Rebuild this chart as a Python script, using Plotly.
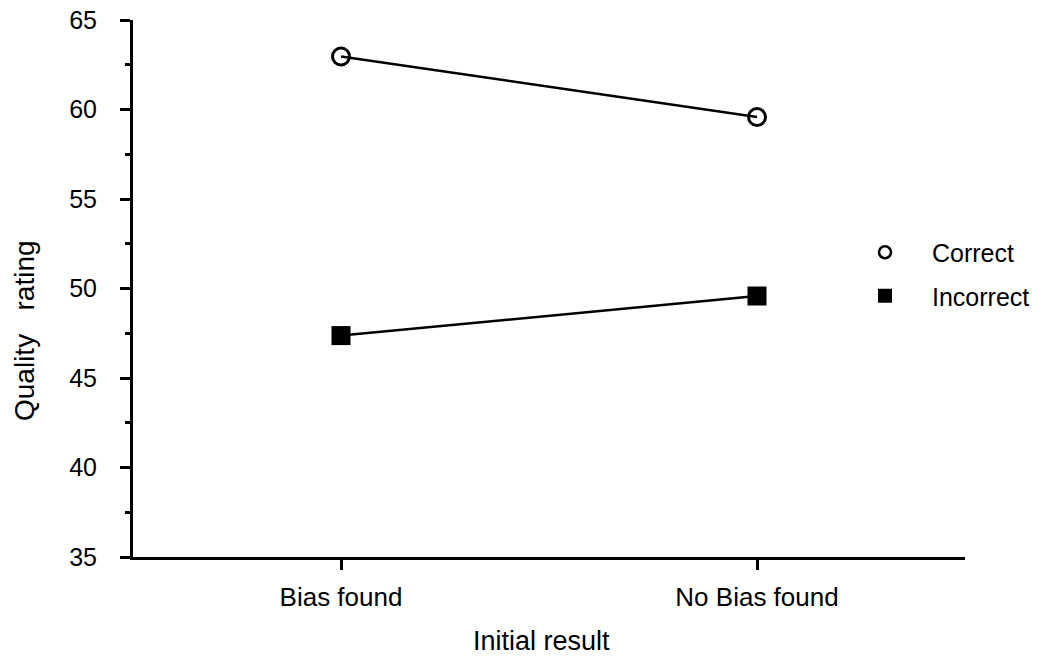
import plotly.graph_objects as go

categories = ["Bias found", "No Bias found"]
correct = [62.96, 59.58]
incorrect = [47.37, 49.58]
series_names = ["Correct", "Incorrect"]
y_ticks = [35, 40, 45, 50, 55, 60, 65]

FONT = "Liberation Sans, Arial, sans-serif"

fig = go.Figure()
fig.add_trace(go.Scatter(x=categories, y=correct, mode="lines+markers",
                         line=dict(color="black", width=2.5),
                         marker=dict(symbol="circle-open", size=17, color="black", line=dict(width=3)),
                         showlegend=False, cliponaxis=False))
fig.add_trace(go.Scatter(x=categories, y=incorrect, mode="lines+markers",
                         line=dict(color="black", width=2.5),
                         marker=dict(symbol="square", size=19, color="black"),
                         showlegend=False, cliponaxis=False))
# legend entries (markers only)
fig.add_trace(go.Scatter(x=[None], y=[None], mode="markers", name=series_names[0],
                         legendgroup="a",
                         marker=dict(symbol="circle-open", size=12, color="black", line=dict(width=2.5))))
fig.add_trace(go.Scatter(x=[None], y=[None], mode="markers", name=series_names[1],
                         legendgroup="b",
                         marker=dict(symbol="square", size=14, color="black")))

fig.update_layout(
    width=1049, height=658,
    margin=dict(l=133, r=84, t=20, b=101, autoexpand=False),
    paper_bgcolor="white", plot_bgcolor="white",
    font=dict(family=FONT, color="black", size=25),
    legend=dict(x=(838 - 133) / 832, y=0.527, xanchor="left", yanchor="middle",
                font=dict(size=25, family=FONT), bgcolor="rgba(0,0,0,0)",
                traceorder="grouped", tracegroupgap=8, itemwidth=84),
)
fig.update_xaxes(type="category", range=[-0.5, 1.5], showline=True, linecolor="black", linewidth=3,
                 ticks="outside", ticklen=10, tickwidth=2.5, tickcolor="black",
                 ticklabelstandoff=5, automargin=False,
                 showgrid=False, zeroline=False, tickfont=dict(size=26, family=FONT))
fig.update_yaxes(range=[35, 65], tickvals=y_ticks, showline=True, linecolor="black", linewidth=3,
                 ticks="outside", ticklen=10, tickwidth=2.5, tickcolor="black",
                 ticklabelstandoff=18, ticklabeloverflow="allow", automargin=False,
                 minor=dict(dtick=2.5, tick0=35, ticks="outside", ticklen=5, tickwidth=2.5, tickcolor="black"),
                 showgrid=False, zeroline=False, tickfont=dict(size=25, family=FONT))

# axis titles
fig.add_annotation(text="Quality\u00a0\u00a0\u00a0rating", xref="paper", yref="paper",
                   x=(24 - 133) / 832, y=(557 - 331) / 537,
                   textangle=-90, showarrow=False, font=dict(size=28, family=FONT),
                   xanchor="center", yanchor="middle")
fig.add_annotation(text="Initial result", xref="paper", yref="paper",
                   x=(541 - 133) / 832, y=(557 - 641) / 537,
                   showarrow=False, font=dict(size=27, family=FONT),
                   xanchor="center", yanchor="middle")

fig.write_html("out.html", config={"displayModeBar": False},
               post_script="document.body.style.margin='0';document.body.style.overflow='hidden';")
